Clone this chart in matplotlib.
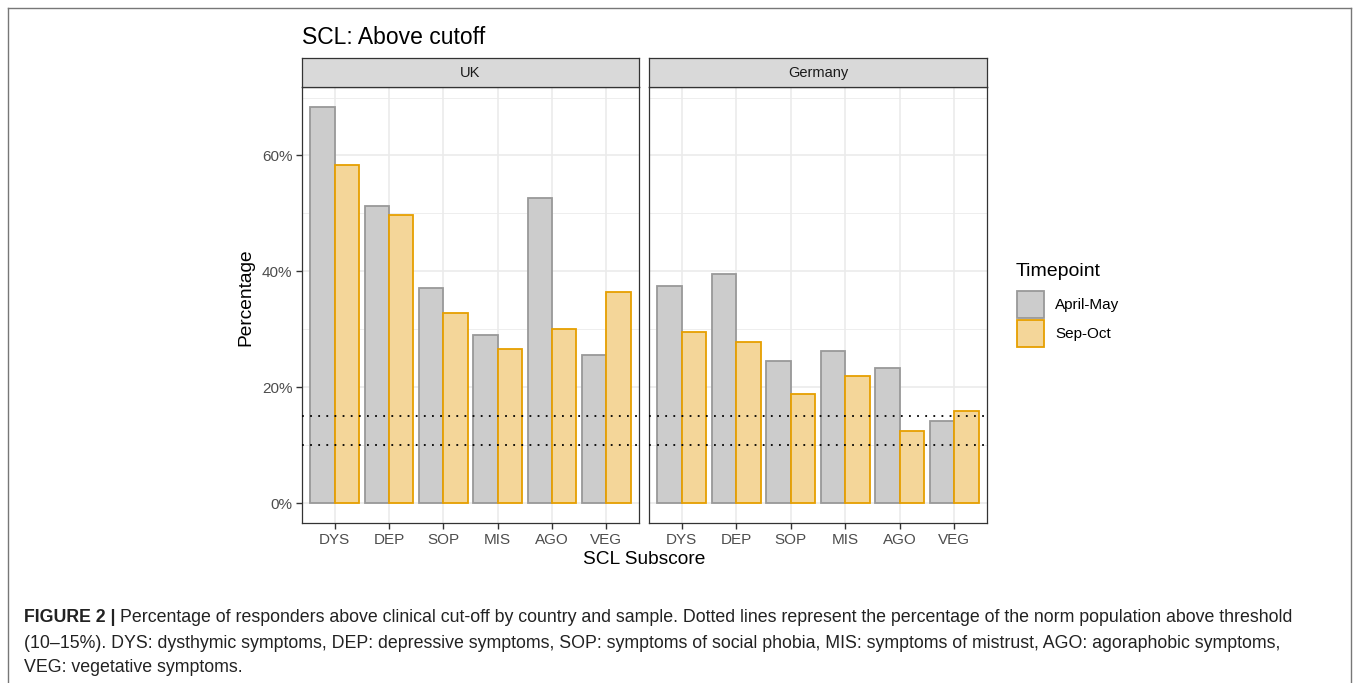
"""
SCL subscores above clinical cutoff, UK vs Germany, two timepoints.
ggplot-style facetted bar chart with the journal caption underneath.
"""
import matplotlib
matplotlib.use("Agg")
import matplotlib.pyplot as plt
import numpy as np
from matplotlib.patches import Rectangle

plt.rcParams["font.family"] = ["Liberation Sans", "DejaVu Sans"]

subscores = ["DYS", "DEP", "SOP", "MIS", "AGO", "VEG"]
countries = ["UK", "Germany"]
timepoints = ["April-May", "Sep-Oct"]
uk_april = [68.4, 51.2, 37.1, 29.0, 52.6, 25.5]
uk_sep = [58.4, 49.7, 32.8, 26.6, 30.0, 36.4]
de_april = [37.4, 39.5, 24.6, 26.3, 23.4, 14.1]
de_sep = [29.6, 27.8, 18.8, 21.9, 12.4, 15.9]
norm_lines = [10, 15]
y_ticks = [0, 20, 40, 60]
y_minor = [10, 30, 50, 70]

FILL = {"April-May": "#CCCCCC", "Sep-Oct": "#F4D699"}
EDGE = {"April-May": "#999999", "Sep-Oct": "#E69F00"}
INK = "#4D4D4D"

W, H = 1358, 683
fig = plt.figure(figsize=(W / 100, H / 100), dpi=100)


def px_axes(x0, y0, x1, y1, **kw):
    # pixel box (top-left origin) -> figure axes
    return fig.add_axes([x0 / W, 1 - y1 / H, (x1 - x0) / W, (y1 - y0) / H], **kw)


# outer frame of the figure box
frame = px_axes(8, 8, 1351, 690)
frame.set_xticks([]); frame.set_yticks([])
frame.patch.set_alpha(0)
for s in frame.spines.values():
    s.set_color("#777777"); s.set_linewidth(1.0)

values = {"UK": (uk_april, uk_sep), "Germany": (de_april, de_sep)}
panels = {"UK": (302, 639), "Germany": (649, 987)}
ymax = max(uk_april + uk_sep + de_april + de_sep)
ylim = (-0.05 * ymax, ymax * 1.05)
x = np.arange(1, len(subscores) + 1)
bw = 0.45

for i, c in enumerate(countries):
    x0, x1 = panels[c]
    ax = px_axes(x0, 87, x1, 523)
    ax.set_xlim(0.4, len(subscores) + 0.6)
    ax.set_ylim(*ylim)
    for v in y_minor:
        ax.axhline(v, color="#EBEBEB", lw=0.6, zorder=0)
    for v in y_ticks:
        ax.axhline(v, color="#EBEBEB", lw=1.2, zorder=0)
    for xv in x:
        ax.axvline(xv, color="#EBEBEB", lw=1.2, zorder=0)
    apr, sep = values[c]
    ax.bar(x - bw / 2, apr, width=bw, color=FILL["April-May"],
           edgecolor=EDGE["April-May"], lw=1.3, zorder=2)
    ax.bar(x + bw / 2, sep, width=bw, color=FILL["Sep-Oct"],
           edgecolor=EDGE["Sep-Oct"], lw=1.3, zorder=2)
    for v in norm_lines:
        ax.axhline(v, color="black", lw=1.3, ls=(0, (1, 3.5)), zorder=3)
    ax.set_xticks(x)
    ax.set_xticklabels(subscores, color=INK, fontsize=11)
    ax.set_yticks(y_ticks)
    ax.tick_params(length=4, width=1, color="#333333", pad=3)
    if i == 0:
        ax.set_yticklabels([f"{v}%" for v in y_ticks], color=INK, fontsize=11)
    else:
        ax.set_yticklabels([])
        ax.tick_params(axis="y", length=0)
    for s in ax.spines.values():
        s.set_color("#333333"); s.set_linewidth(0.9)

    # facet strip
    st = px_axes(x0, 58, x1, 87)
    st.set_xticks([]); st.set_yticks([])
    st.set_facecolor("#D9D9D9")
    for s in st.spines.values():
        s.set_color("#333333"); s.set_linewidth(0.9)
    st.text(0.5, 0.48, c, ha="center", va="center", fontsize=10.5, color="#1A1A1A",
            transform=st.transAxes)

fig.text(302 / W, 1 - 37 / H, "SCL: Above cutoff", fontsize=16.5, va="center", ha="left")
fig.text(246 / W, 1 - 297 / H, "Percentage", fontsize=13.8, rotation=90, va="center", ha="center")
fig.text(644 / W, 1 - 559 / H, "SCL Subscore", fontsize=13.8, va="center", ha="center")

# legend
fig.text(1016 / W, 1 - 271 / H, "Timepoint", fontsize=14, va="center", ha="left")
for k, t in enumerate(timepoints):
    top = 291 + k * 29
    fig.patches.append(Rectangle((1017 / W, 1 - (top + 27) / H), 27 / W, 27 / H,
                                 transform=fig.transFigure, facecolor=FILL[t],
                                 edgecolor=EDGE[t], lw=1.3))
    fig.text(1055 / W, 1 - (top + 14) / H, t, fontsize=11, va="center", ha="left")

# caption
cap_font = ["Liberation Sans Narrow", "Liberation Sans", "DejaVu Sans"]
caption = [
    "Percentage of responders above clinical cut-off by country and sample. Dotted lines represent the percentage of the norm population above threshold",
    "(10–15%). DYS: dysthymic symptoms, DEP: depressive symptoms, SOP: symptoms of social phobia, MIS: symptoms of mistrust, AGO: agoraphobic symptoms,",
    "VEG: vegetative symptoms.",
]
t0 = fig.text(24 / W, 1 - 617 / H, "FIGURE 2 |", fontsize=12.8, fontweight="bold",
              family=cap_font, va="center", ha="left", color="#222222")
fig.canvas.draw()
bb = t0.get_window_extent()
fig.text(bb.x1 / W + 4 / W, 1 - 617 / H, caption[0], fontsize=12.8, family=cap_font,
         va="center", ha="left", color="#222222")
for j, line in enumerate(caption[1:]):
    fig.text(24 / W, 1 - (643 + 25 * j) / H, line, fontsize=12.8, family=cap_font,
             va="center", ha="left", color="#222222")

fig.savefig("out.png", dpi=100)
